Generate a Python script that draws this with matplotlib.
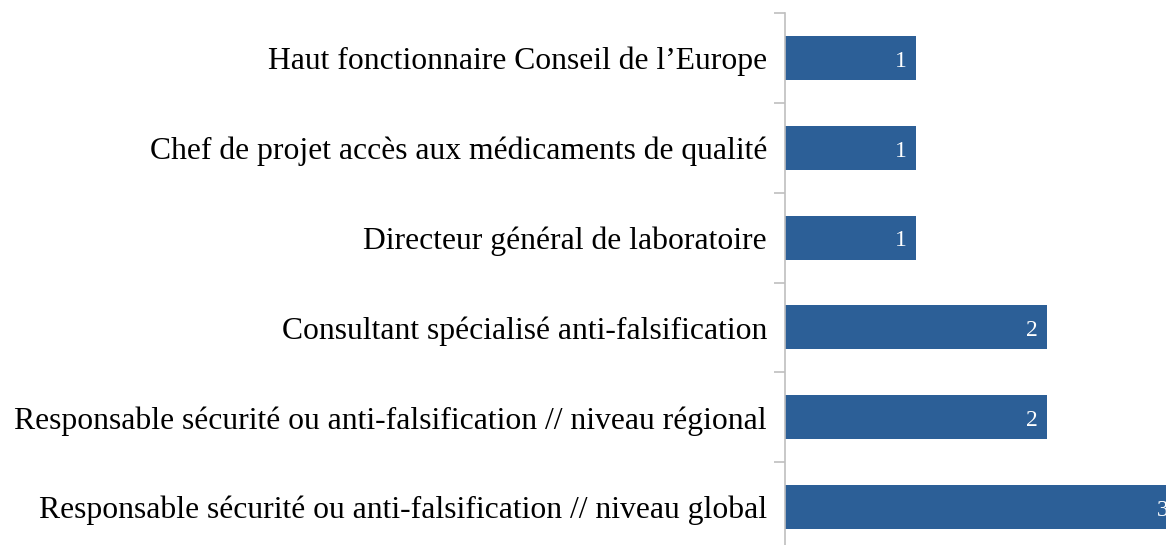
import numpy as np
import matplotlib.pyplot as plt

categories = [
    "Haut fonctionnaire Conseil de l\u2019Europe",
    "Chef de projet accès aux médicaments de qualité",
    "Directeur général de laboratoire",
    "Consultant spécialisé anti-falsification",
    "Responsable sécurité ou anti-falsification // niveau régional",
    "Responsable sécurité ou anti-falsification // niveau global",
]
counts = [1, 1, 1, 2, 2, 3]

plt.rcParams['font.family'] = ['Liberation Serif', 'DejaVu Serif']

W, H = 1166, 545
fig = plt.figure(figsize=(W / 100, H / 100), dpi=100)

# axes extend past the figure edges (chart is cropped in the reference)
x0, top, bottom = 785, 13, 552
xmax = 3.2
unit = 131
ax = fig.add_axes([x0 / W, 1 - bottom / H, xmax * unit / W, (bottom - top) / H])

y = np.arange(len(categories))
ax.barh(y, counts, height=0.49, color='#2c5f97')
ax.set_xlim(0, xmax)
ax.set_ylim(len(categories) - 0.5, -0.5)

for yi, v in zip(y, counts):
    ax.text(v - 0.07, yi + 0.01, str(v), color='white', ha='right',
            va='center_baseline', fontsize=17)

for s in ['top', 'right', 'bottom']:
    ax.spines[s].set_visible(False)
ax.spines['left'].set_color('#bfbfbf')
ax.spines['left'].set_linewidth(1.2)

ax.set_xticks([])
ax.set_yticks(np.arange(-0.5, len(categories)), labels=[])
ax.set_yticks(y, labels=categories, minor=True)
ax.tick_params(axis='y', which='major', length=8, color='#bfbfbf', width=1.2)
ax.tick_params(axis='y', which='minor', length=0, pad=13, labelsize=22.8)

fig.savefig('out.png', dpi=100)
